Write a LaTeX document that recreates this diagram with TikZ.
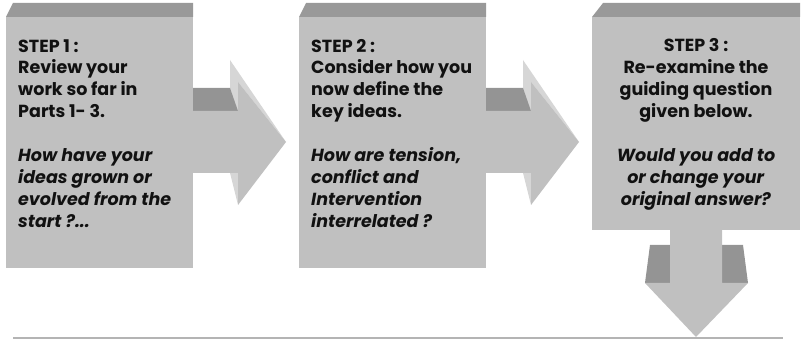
\documentclass[tikz,border=0pt]{standalone}
\usepackage{fontspec}
\setmainfont{Poppins}
\definecolor{facegray}{HTML}{C0C0C0}
\definecolor{topgray}{HTML}{999999}
\definecolor{darkgray}{HTML}{949494}
\definecolor{sidegray}{HTML}{D6D6D6}
\definecolor{rulegray}{HTML}{B4B4B4}
\definecolor{inkgray}{HTML}{111111}
\begin{document}
\begin{tikzpicture}[x=1pt,y=-1pt,
		face/.style={fill=facegray},
		bevel/.style={fill=topgray},
		shade/.style={fill=darkgray},
		side/.style={fill=sidegray},
		steptext/.style={inner sep=0pt,text=inkgray,font=\bfseries\fontsize{17.5}{22}\selectfont}]
		\useasboundingbox (0,0) rectangle (801,339);
		\begin{scope}
			% boxes 1 and 2 with their arrows
			\foreach \dx in {0,293}
			{
				\fill[bevel] (6+\dx,17) -- (13+\dx,3) -- (193+\dx,3) -- (193+\dx,17) -- cycle;
				\fill[face] (6+\dx,17) rectangle (193+\dx,268);
				\fill[side] (230+\dx,60) -- (286+\dx,142) -- (238+\dx,82) -- (238+\dx,111) -- (230+\dx,111) -- cycle;
				\fill[side] (230+\dx,173) -- (238+\dx,173) -- (238+\dx,205) -- cycle;
				\fill[shade] (193+\dx,88) -- (230+\dx,88) -- (238+\dx,111) -- (193+\dx,111) -- cycle;
				\fill[face] (193+\dx,111) -- (238+\dx,111) -- (238+\dx,82) -- (286+\dx,142) -- (238+\dx,205) -- (238+\dx,173) -- (193+\dx,173) -- cycle;
			}
			% box 3 with the down arrow
			\fill[bevel] (592,17) -- (603,3) -- (800,3) -- (800,17) -- cycle;
			\fill[face] (592,17) rectangle (800,230);
			\fill[shade] (650,245) -- (670,245) -- (670,283) -- (645,283) -- cycle;
			\fill[shade] (722,245) -- (743,245) -- (748,283) -- (722,283) -- cycle;
			\fill[face] (670,229) -- (722,229) -- (722,283) -- (748,283) -- (696,337) -- (645,283) -- (670,283) -- cycle;
			\draw[rulegray,line width=1.5pt] (13,338) -- (783,338);
		\end{scope}
		\node[steptext,anchor=base west,align=left] (step1) at (18,228) {STEP 1 :\\Review your\\work so far in\\Parts 1- 3.\\[22pt]\textit{How have your}\\\textit{ideas grown or}\\\textit{evolved from the}\\\textit{start ?...}};
		\node[steptext,anchor=base west,align=left] (step2) at (311,228) {STEP 2 :\\Consider how you\\now define the\\key ideas.\\[22pt]\textit{How are tension,}\\\textit{conflict and}\\\textit{Intervention}\\\textit{interrelated ?}};
		\node[steptext,anchor=base,align=center] (step3) at (696,206) {STEP 3 :\\Re-examine the\\guiding question\\given below.\\[22pt]\textit{Would you add to}\\\textit{or change your}\\\textit{original answer?}};
\end{tikzpicture}
\end{document}
